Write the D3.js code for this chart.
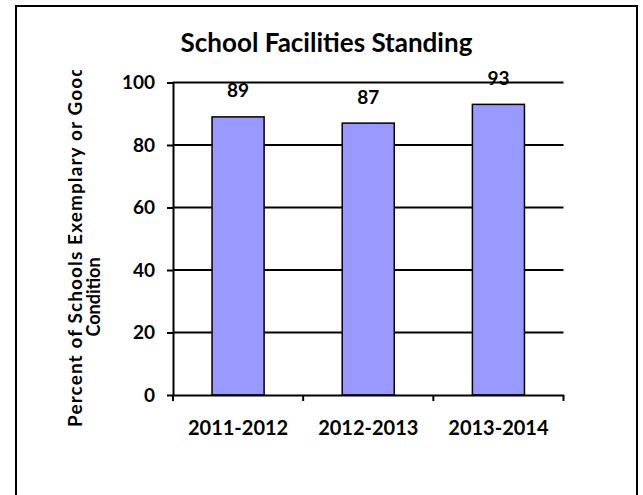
<!DOCTYPE html>
<html>
<head>
<meta charset="utf-8">
<script src="https://cdn.jsdelivr.net/npm/d3@7"></script>
<style>
body { margin: 0; background: #fff; }
svg text { font-family: Lato, "Open Sans", sans-serif; font-weight: bold; fill: #000; }
</style>
</head>
<body>
<svg id="chart" width="643" height="495"></svg>
<script>
const categories = ["2011-2012", "2012-2013", "2013-2014"];
const values = [89, 87, 93];
const yTicks = [0, 20, 40, 60, 80, 100];
const chartTitle = "School Facilities Standing";
const yTitleLines = ["Percent of Schools Exemplary or Good", "Condition"];

const svg = d3.select("#chart");

// plot box
const plotLeft = 173, plotRight = 563.5, plotTop = 82.5, plotBottom = 395;

const x = d3.scaleBand()
    .domain(categories)
    .range([plotLeft, plotRight])
    .paddingInner(0.6)
    .paddingOuter(0.3);

const y = d3.scaleLinear()
    .domain([0, 100])
    .range([plotBottom, plotTop]);

// outer frame
svg.append("rect")
    .attr("x", 16).attr("y", 6)
    .attr("width", 621).attr("height", 495)
    .attr("fill", "#fff")
    .attr("stroke", "#000")
    .attr("stroke-width", 2);

// title
svg.append("text")
    .attr("x", 326.5).attr("y", 51.5)
    .attr("text-anchor", "middle")
    .style("font-size", "26px")
    .text(chartTitle);

// gridlines
svg.append("g").selectAll("line")
    .data(yTicks.filter(t => t > 0))
    .enter().append("line")
    .attr("x1", plotLeft).attr("x2", plotRight)
    .attr("y1", d => y(d)).attr("y2", d => y(d))
    .attr("stroke", "#000")
    .attr("stroke-width", 2);

// bars
svg.append("g").selectAll("rect")
    .data(values)
    .enter().append("rect")
    .attr("x", (d, i) => x(categories[i]))
    .attr("y", d => y(d))
    .attr("width", x.bandwidth())
    .attr("height", d => plotBottom - y(d))
    .attr("fill", "#9999ff")
    .attr("stroke", "#000")
    .attr("stroke-width", 1.5);

// value labels
svg.append("g").selectAll("text")
    .data(values)
    .enter().append("text")
    .attr("x", (d, i) => x(categories[i]) + x.bandwidth() / 2)
    .attr("y", d => y(d) - 19.5)
    .attr("text-anchor", "middle")
    .style("font-size", "19px")
    .text(d => d);

// y axis
const yAxis = svg.append("g")
    .attr("transform", `translate(${plotLeft},0)`)
    .call(d3.axisLeft(y).tickValues(yTicks).tickSize(6).tickSizeOuter(0).tickPadding(12));
yAxis.attr("font-family", null).attr("font-size", null);
yAxis.selectAll("path, line").attr("stroke", "#000").attr("stroke-width", 2);
yAxis.selectAll("text").style("font-size", "19px");

// x axis
const xAxis = svg.append("g")
    .attr("transform", `translate(0,${plotBottom})`)
    .call(d3.axisBottom(x).tickSize(0).tickSizeOuter(0).tickPadding(26));
xAxis.attr("font-family", null).attr("font-size", null);
xAxis.select(".domain").attr("stroke", "#000").attr("stroke-width", 2);
xAxis.selectAll("text").style("font-size", "20px");

// category boundary ticks
const step = x.step();
xAxis.selectAll(".sep")
    .data(d3.range(categories.length + 1))
    .enter().append("line")
    .attr("class", "sep")
    .attr("x1", i => plotLeft + i * step).attr("x2", i => plotLeft + i * step)
    .attr("y1", 0).attr("y2", 6)
    .attr("stroke", "#000")
    .attr("stroke-width", 2);

// y axis title, first line clipped at the top like the original
svg.append("clipPath").attr("id", "ytclip")
    .append("rect").attr("x", 0).attr("y", 70).attr("width", 160).attr("height", 425);

svg.append("g")
    .attr("clip-path", "url(#ytclip)")
    .append("text")
    .attr("transform", "translate(82,427) rotate(-90)")
    .attr("text-anchor", "start")
    .style("font-size", "19px")
    .style("letter-spacing", "1.1px")
    .text(yTitleLines[0]);

svg.append("text")
    .attr("transform", "translate(100,297) rotate(-90)")
    .attr("text-anchor", "middle")
    .style("font-size", "18px")
    .text(yTitleLines[1]);
</script>
</body>
</html>
